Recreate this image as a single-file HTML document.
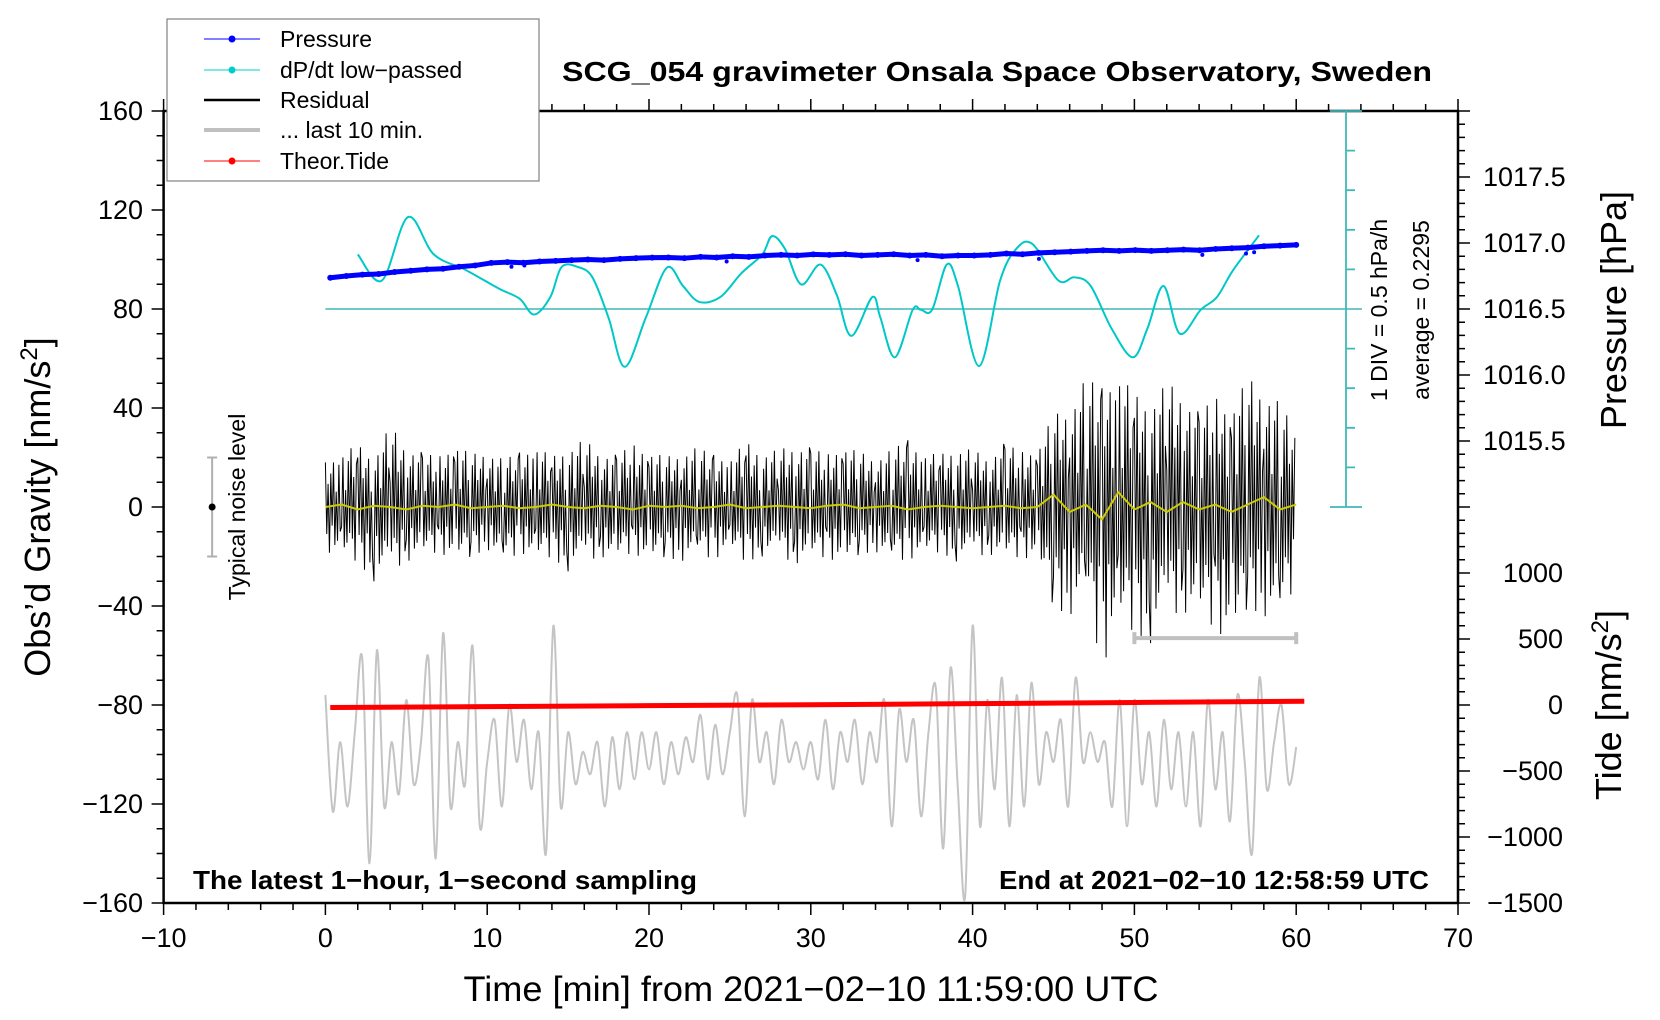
<!DOCTYPE html>
<html><head><meta charset="utf-8"><style>
html,body{margin:0;padding:0;background:#fff}
svg{display:block;font-family:"Liberation Sans",sans-serif}
</style></head><body>
<svg id="chart" width="1660" height="1020" viewBox="0 0 1660 1020" xmlns="http://www.w3.org/2000/svg">
<rect x="0" y="0" width="1660" height="1020" fill="#fff"/>
<g id="marks"></g>
<g id="axes"></g>
<g>
 <rect x="167" y="19" width="372" height="162" fill="#fff" stroke="#808080" stroke-width="1.2"/>
 <g><line x1="204" y1="39" x2="260" y2="39" stroke="#0000ff" stroke-width="1"/><circle cx="232" cy="39" r="3.5" fill="#0000ff"/><text x="280" y="47" font-size="23">Pressure</text></g>
 <g><line x1="204" y1="70" x2="260" y2="70" stroke="#00cccc" stroke-width="1"/><circle cx="232" cy="70" r="3.5" fill="#00cccc"/><text x="280" y="78" font-size="23">dP/dt low−passed</text></g>
 <g><line x1="204" y1="100" x2="260" y2="100" stroke="#000" stroke-width="2.5"/><text x="280" y="108" font-size="23">Residual</text></g>
 <g><line x1="204" y1="130" x2="260" y2="130" stroke="#c0c0c0" stroke-width="4"/><text x="280" y="138" font-size="23">... last 10 min.</text></g>
 <g><line x1="204" y1="161" x2="260" y2="161" stroke="#ff0000" stroke-width="1"/><circle cx="232" cy="161" r="3.5" fill="#ff0000"/><text x="280" y="169" font-size="23">Theor.Tide</text></g>
</g>
<text x="997" y="81" font-size="28" font-weight="bold" text-anchor="middle" textLength="870" lengthAdjust="spacingAndGlyphs">SCG_054 gravimeter Onsala Space Observatory, Sweden</text>
<text x="811" y="1001" font-size="35" text-anchor="middle" textLength="695" lengthAdjust="spacingAndGlyphs">Time [min] from 2021−02−10 11:59:00 UTC</text>
<text transform="translate(50,507) rotate(-90)" font-size="36" text-anchor="middle">Obs’d Gravity [nm/s<tspan font-size="24" dy="-13">2</tspan><tspan dy="13">]</tspan></text>
<text transform="translate(1626,310) rotate(-90)" font-size="36" text-anchor="middle">Pressure [hPa]</text>
<text transform="translate(1621,705) rotate(-90)" font-size="36" text-anchor="middle">Tide [nm/s<tspan font-size="24" dy="-13">2</tspan><tspan dy="13">]</tspan></text>
<text x="193" y="889" font-size="26" font-weight="bold" textLength="504" lengthAdjust="spacingAndGlyphs">The latest 1−hour, 1−second sampling</text>
<text x="1429" y="889" font-size="26" font-weight="bold" text-anchor="end" textLength="430" lengthAdjust="spacingAndGlyphs">End at 2021−02−10 12:58:59 UTC</text>
<text transform="translate(245,507) rotate(-90)" font-size="23" text-anchor="middle">Typical noise level</text>
<text transform="translate(1387,310) rotate(-90)" font-size="23" text-anchor="middle">1 DIV = 0.5 hPa/h</text>
<text transform="translate(1429,310) rotate(-90)" font-size="23" text-anchor="middle">average = 0.2295</text>
</svg>
<script>
// ---- data ----
const xTicks=[-10,0,10,20,30,40,50,60,70];
const gTicks=[160,120,80,40,0,-40,-80,-120,-160];
const pTickLabels=["1017.5","1017.0","1016.5","1016.0","1015.5"];
const pTicks=[1017.5,1017.0,1016.5,1016.0,1015.5];
const tideTicks=[1000,500,0,-500,-1000,-1500];
const pressure=[1016.737,1016.75,1016.76,1016.765,1016.78,1016.79,1016.80,1016.805,1016.82,1016.83,1016.849,1016.855,1016.85,1016.86,1016.865,1016.87,1016.875,1016.87,1016.88,1016.885,1016.889,1016.89,1016.885,1016.895,1016.89,1016.90,1016.895,1016.905,1016.91,1016.905,1016.914,1016.91,1016.915,1016.905,1016.91,1016.915,1016.905,1016.91,1016.90,1016.905,1016.905,1016.91,1016.92,1016.915,1016.925,1016.93,1016.935,1016.94,1016.945,1016.94,1016.946,1016.94,1016.945,1016.95,1016.945,1016.955,1016.96,1016.965,1016.975,1016.98,1016.986];
const pressureOutT=[11.5,12.3,24.8,36.6,44.1,54.2,56.9,57.4];
const pressureOutV=[1016.82,1016.83,1016.86,1016.87,1016.88,1016.91,1016.92,1016.93];
const dpdtT=[2.0,3.5,5.1,6.7,8.7,10.7,12.0,12.9,13.9,14.6,15.6,16.5,17.5,18.5,19.8,21.1,22.1,23.1,24.4,25.7,27.0,27.6,28.4,29.4,30.6,31.6,32.5,33.8,34.3,35.2,36.3,36.8,37.5,38.4,39.1,40.4,41.7,42.7,43.7,45.3,46.3,47.3,48.6,49.9,50.8,51.8,52.8,54.1,55.1,56.1,57.7];
const dpdtV=[0.69,0.36,1.16,0.69,0.49,0.26,0.13,-0.07,0.15,0.53,0.53,0.40,-0.11,-0.73,-0.11,0.52,0.29,0.09,0.15,0.45,0.69,0.92,0.76,0.31,0.56,0.18,-0.34,0.15,-0.11,-0.61,-0.01,-0.01,-0.01,0.56,0.29,-0.72,0.36,0.76,0.82,0.36,0.40,0.29,-0.25,-0.61,-0.25,0.29,-0.31,-0.01,0.15,0.49,0.93];
const resMax=[18,22,25,20,33,24,22,20,26,21,23,19,22,25,20,24,27,22,21,25,23,20,22,24,21,20,26,22,23,25,24,21,25,22,20,23,27,22,21,24,23,20,26,22,24,37,40,52,48,55,45,42,50,46,38,44,40,52,47,42,30];
const resMin=[-18,-20,-22,-30,-26,-22,-20,-18,-22,-20,-17,-23,-18,-22,-20,-26,-22,-20,-22,-18,-23,-20,-22,-19,-21,-18,-22,-20,-19,-23,-21,-20,-24,-19,-18,-22,-21,-20,-18,-22,-20,-19,-21,-20,-22,-40,-44,-35,-65,-48,-50,-55,-44,-42,-46,-48,-58,-40,-44,-46,-30];
const yellow=[0,1,-1,0.5,0,-1,0.5,0,1,-0.5,0,0.5,-0.5,0,1,0,-0.5,0.5,0,-1,0.5,0,0.5,-0.5,0,1,-0.5,0,0.5,0,-0.5,0.5,1,-0.5,0,0.5,-1,0,0.5,0,-0.5,0,0.5,-0.5,0,5,-2,1,-5,6,-1,2,-2,2,-1,1,-2,1,4,-1,1];
const grayV=[-76,-123,-95,-121,-91,-61,-144,-58,-121,-95,-116,-78,-112,-95,-61,-142,-51,-121,-95,-112,-56,-129,-103,-86,-121,-80,-103,-86,-114,-91,-140,-48,-121,-91,-112,-99,-108,-95,-121,-93,-114,-91,-110,-91,-106,-91,-112,-95,-108,-93,-103,-84,-110,-88,-108,-91,-76,-125,-78,-103,-91,-112,-86,-103,-95,-106,-95,-110,-86,-114,-91,-103,-86,-112,-91,-103,-78,-129,-82,-103,-86,-125,-91,-73,-138,-65,-114,-157,-48,-129,-78,-114,-69,-129,-76,-121,-71,-112,-91,-103,-86,-121,-69,-103,-91,-103,-95,-121,-78,-129,-78,-112,-91,-121,-86,-114,-91,-121,-91,-129,-78,-114,-91,-127,-76,-103,-140,-69,-114,-95,-80,-112,-97];
const tideT=[0.3,10,20,30,40,50,60.5];
const tideV=[-19,-12,-5,2,10,19,28];
const barLevel=[-53];

// ---- scales ----
const X=t=>325.4+16.18*t;
const G=g=>507-2.475*g;
const P=p=>177+(1017.5-p)*132;
const T=v=>705-0.132*v;
const D=v=>309-v/0.5*39.6;
const NS="http://www.w3.org/2000/svg";
const marks=document.getElementById('marks'), axes=document.getElementById('axes');
function mk(tag,attrs,parent){const el=document.createElementNS(NS,tag);for(const k in attrs)el.setAttribute(k,attrs[k]);parent.appendChild(el);return el;}
function smooth(pts){let d='M'+pts[0][0].toFixed(1)+','+pts[0][1].toFixed(1);
 for(let i=0;i<pts.length-1;i++){const p0=pts[Math.max(0,i-1)],p1=pts[i],p2=pts[i+1],p3=pts[Math.min(pts.length-1,i+2)];
  d+=' C'+(p1[0]+(p2[0]-p0[0])/6).toFixed(1)+','+(p1[1]+(p2[1]-p0[1])/6).toFixed(1)+' '+(p2[0]-(p3[0]-p1[0])/6).toFixed(1)+','+(p2[1]-(p3[1]-p1[1])/6).toFixed(1)+' '+p2[0].toFixed(1)+','+p2[1].toFixed(1);}
 return d;}

let e;
const gpts=grayV.map((v,i)=>[X(i*60/(grayV.length-1)),G(v)]);
e=mk('path',{d:smooth(gpts),fill:'none',stroke:'#c4c4c4','stroke-width':2},marks);



const pat=[1,-0.6,0.5,-1,0.7,-0.4,0.9,-0.8,0.3,-0.7,0.8,-0.5];
let rd='';
for(let i=0;i<resMax.length-1;i++){for(let k=0;k<pat.length;k++){const f=k/pat.length;const hi=resMax[i]+(resMax[i+1]-resMax[i])*f;const lo=resMin[i]+(resMin[i+1]-resMin[i])*f;const p=pat[(k+i*5)%pat.length];const v=p>0?p*hi:-p*lo;rd+=(rd?' L':'M')+X(i+f).toFixed(2)+','+G(v).toFixed(1);}}
e=mk('path',{d:rd,fill:'none',stroke:'#000','stroke-width':1},marks);


e=mk('polyline',{points:yellow.map((v,i)=>X(i)+','+G(v)).join(' '),fill:'none',stroke:'#cccc00','stroke-width':2},marks);



e=mk('polyline',{points:tideT.map((t,i)=>X(t)+','+T(tideV[i])).join(' '),fill:'none',stroke:'#ff0000','stroke-width':5},marks);



e=mk('line',{x1:X(0),y1:D(0),x2:1362,y2:D(0),stroke:'#40b8b8','stroke-width':1.5},marks);


e=mk('path',{d:smooth(dpdtT.map((t,i)=>[X(t),D(dpdtV[i])])),fill:'none',stroke:'#00c8c8','stroke-width':2},marks);



e=mk('polyline',{points:pressure.map((v,i)=>X(i+0.3*(1-i/60))+','+P(v)).join(' '),fill:'none',stroke:'#0000ff','stroke-width':5},marks);


pressure.forEach((v,i)=>{const c=mk('circle',{cx:X(i+0.3*(1-i/60)),cy:P(v),r:3,fill:'#0000ff'},marks);

});
pressureOutT.forEach((t,i)=>{const c=mk('circle',{cx:X(t),cy:P(pressureOutV[i]),r:2,fill:'#0000ff'},marks);

});

const by=G(barLevel[0]);
e=mk('path',{d:`M${X(50)},${by} H${X(60)} M${X(50)},${by-6} V${by+6} M${X(60)},${by-6} V${by+6}`,stroke:'#c0c0c0','stroke-width':4,fill:'none'},marks);


e=mk('path',{d:`M${X(-7)},${G(20)} V${G(-20)} M${X(-7)-5},${G(20)} H${X(-7)+5} M${X(-7)-5},${G(-20)} H${X(-7)+5}`,stroke:'#b0b0b0','stroke-width':2,fill:'none'},marks);


e=mk('circle',{cx:X(-7),cy:G(0),r:3.5,fill:'#000'},marks);



const L=X(-10),R=X(70),TOP=G(160),BOT=G(-160);
e=mk('rect',{x:L,y:TOP,width:R-L,height:BOT-TOP,fill:'none',stroke:'#000','stroke-width':2.5},axes);


let td='';
for(let t=-10;t<=70;t+=2){const maj=t%10===0;const x=X(t);td+=`M${x},${BOT} V${BOT+(maj?12:7)} M${x},${TOP} V${TOP-(maj?12:7)}`;}
for(let g=-160;g<=160;g+=10){const maj=g%40===0;td+=`M${L},${G(g)} H${L-(maj?12:7)}`;}
for(let y=TOP+(177-TOP)%13.2;y<=BOT+0.5;y+=13.2){const r=((y-177)%66+66)%66;const maj=r<0.6||r>65.4;td+=`M${R},${y.toFixed(1)} H${R+(maj?12:7)}`;}
e=mk('path',{d:td,stroke:'#000','stroke-width':1.5,fill:'none'},axes);


xTicks.forEach(t=>{const s=mk('text',{x:X(t),y:947,'font-size':27,'text-anchor':'middle'},axes);s.textContent=String(t).replace('-','−');

});
gTicks.forEach(g=>{const s=mk('text',{x:143,y:G(g)+9,'font-size':27,'text-anchor':'end'},axes);s.textContent=String(g).replace('-','−');

});
pTicks.forEach((p,i)=>{const s=mk('text',{x:1483,y:P(p)+9,'font-size':27},axes);s.textContent=pTickLabels[i];

});
tideTicks.forEach(v=>{const s=mk('text',{x:1563,y:T(v)+9,'font-size':27,'text-anchor':'end'},axes);s.textContent=String(v).replace('-','−');

});
let sd=`M1346,${D(2.5)} V${D(0)} V${G(0)} M1330,${D(2.5)} H1362 M1330,${G(0)} H1362`;
for(let v=-2.5;v<=2.5;v+=0.5){const y=D(v);if(y>TOP&&y<G(0)-1&&Math.abs(v)>0.01)sd+=` M1346,${y} H1355`;}
e=mk('path',{d:sd,stroke:'#40b8b8','stroke-width':1.8,fill:'none'},axes);


</script>
</body></html>
